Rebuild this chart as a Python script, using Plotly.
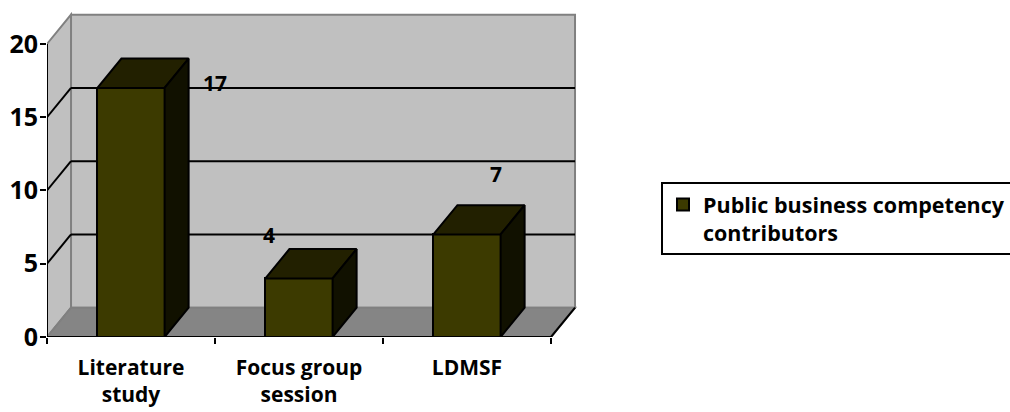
import plotly.graph_objects as go

# Chart data
categories = ["Literature<br>study", "Focus group<br>session", "LDMSF"]
values = [17, 4, 7]
series_name = "Public business competency<br>contributors"
y_ticks = [0, 5, 10, 15, 20]

# 3D look: depth offset of the walls / bar sides (in axis units)
DX, DY = 0.143, 2.0
BAR_W = 0.4
N = len(categories)
Y_TOP = 20

FRONT = "#3c3a00"
TOP = "#222000"
SIDE = "#111100"
WALL = "#c0c0c0"
FLOOR = "#858585"
EDGE = "#808080"
FONT = "Open Sans"

# data-label placement (x offset in category units, y shift in px)
label_dx = [0.5, -0.18, 0.17]
label_dy = [5, 43, 60]

fig = go.Figure()

centers = [i + 0.5 for i in range(N)]

# front faces
fig.add_trace(go.Bar(
    x=centers, y=values, width=BAR_W, base=0, name=f"<b>{series_name}</b>",
    marker=dict(color=FRONT, line=dict(color="black", width=2)),
    showlegend=True, hoverinfo="skip",
))

# top and side faces of each bar
for c, v in zip(centers, values):
    x0, x1 = c - BAR_W / 2, c + BAR_W / 2
    fig.add_trace(go.Scatter(
        x=[x0, x0 + DX, x1 + DX, x1, x0], y=[v, v + DY, v + DY, v, v],
        fill="toself", fillcolor=TOP, mode="lines",
        line=dict(color="black", width=2), showlegend=False, hoverinfo="skip",
    ))
    fig.add_trace(go.Scatter(
        x=[x1, x1 + DX, x1 + DX, x1, x1], y=[0, DY, v + DY, v, 0],
        fill="toself", fillcolor=SIDE, mode="lines",
        line=dict(color="black", width=2), showlegend=False, hoverinfo="skip",
    ))

shapes = []
def poly(pts, fill, line_color, width=2):
    d = "M " + " L ".join(f"{x},{y}" for x, y in pts) + " Z"
    shapes.append(dict(type="path", path=d, xref="x", yref="y", fillcolor=fill,
                       line=dict(color=line_color, width=width), layer="below"))

def seg(x0, y0, x1, y1, color, width=2):
    shapes.append(dict(type="line", x0=x0, y0=y0, x1=x1, y1=y1, xref="x", yref="y",
                       line=dict(color=color, width=width), layer="below"))

# back wall, side wall, floor
poly([(DX, DY), (N + DX, DY), (N + DX, Y_TOP + DY), (DX, Y_TOP + DY)], WALL, EDGE)
poly([(0, 0), (DX, DY), (DX, Y_TOP + DY), (0, Y_TOP)], WALL, EDGE)
poly([(0, 0), (N, 0), (N + DX, DY), (DX, DY)], FLOOR, EDGE)

# gridlines on the walls
for t in y_ticks[1:-1]:
    seg(0, t, DX, t + DY, "black")
    seg(DX, t + DY, N + DX, t + DY, "black")

# axis lines
seg(0, 0, 0, Y_TOP, "black")
seg(0, 0, N, 0, "black")
seg(N, 0, N + DX, DY, "black")

annotations = []
for c, v, dx, dy in zip(centers, values, label_dx, label_dy):
    annotations.append(dict(
        x=c + dx, y=v, xref="x", yref="y", text=f"<b>{v}</b>", showarrow=False,
        yshift=dy, xanchor="center", yanchor="middle",
        font=dict(family=FONT, size=21, color="black"),
    ))

fig.update_layout(
    width=1010, height=412,
    margin=dict(l=47, r=375, t=0, b=75, autoexpand=False),
    paper_bgcolor="white", plot_bgcolor="rgba(0,0,0,0)",
    shapes=shapes, annotations=annotations,
    bargap=0,
    xaxis=dict(
        range=[0, 3.5], showgrid=False, zeroline=False, showline=False,
        tickvals=centers, ticktext=[f"<b>{c}</b>" for c in categories], ticks="",
        tickfont=dict(family=FONT, size=21, color="black"),
        minor=dict(tickvals=list(range(N + 1)), ticks="outside", ticklen=6,
                   tickwidth=2, tickcolor="black"),
        ticklabelstandoff=16,
    ),
    yaxis=dict(
        range=[0, 23], showgrid=False, zeroline=False, showline=False,
        tickvals=y_ticks, ticktext=[f"<b>{t}</b>" for t in y_ticks],
        ticks="outside", ticklen=6, tickwidth=2, tickcolor="black",
        tickfont=dict(family=FONT, size=25, color="black"),
        ticklabelstandoff=-3,
    ),
    legend=dict(
        x=(661 - 47) / 588, y=(337 - 182) / 337, xanchor="left", yanchor="top",
        bordercolor="black", borderwidth=2, bgcolor="white", valign="top",
        font=dict(family=FONT, size=21.5, color="black"), itemwidth=30,
    ),
    showlegend=True,
)

fig.write_html("out.html")
